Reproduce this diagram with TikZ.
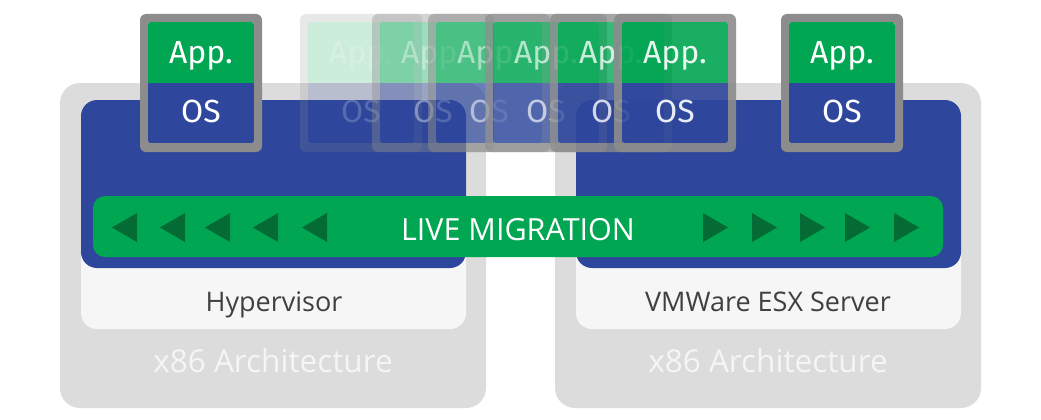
\documentclass[tikz,border=0pt]{standalone}
\usepackage{fontspec}
\setmainfont{Open Sans}
\newfontfamily\vmfont{Fira Sans}
\definecolor{mygreen}{HTML}{00A651}
\definecolor{darkgreen}{HTML}{036B33}
\definecolor{myblue}{HTML}{2E479C}
\definecolor{framegray}{HTML}{8C8C8C}
\definecolor{boxgray}{HTML}{DCDCDC}
\definecolor{innergray}{HTML}{F6F6F6}
\definecolor{txtgray}{HTML}{404040}
\tikzset{
  hostbox/.style={fill=boxgray, draw=none, rounded corners=20pt, minimum width=426pt, minimum height=325pt, inner sep=0pt},
  layerbox/.style={fill=innergray, draw=none, rounded corners=16pt, minimum width=385pt, minimum height=229pt, inner sep=0pt},
  bluebox/.style={fill=myblue, draw=none, rounded corners=16pt, minimum width=385pt, minimum height=168pt, inner sep=0pt},
  barbox/.style={fill=mygreen, draw=none, rounded corners=12pt, minimum width=850pt, minimum height=61pt, inner sep=0pt},
  archlabel/.style={text=white!96!black, font=\fontsize{31.5}{33}\selectfont, anchor=base, inner sep=0pt},
  hvlabel/.style={text=txtgray, font=\fontsize{27}{29}\selectfont, anchor=base, inner sep=0pt},
  tri/.style={fill=darkgreen},
  vmtext/.style={text=white, font=\vmfont\fontsize{32}{34}\selectfont, inner sep=0pt, anchor=base},
}
% \vmbox{name}{left x}{opacity}
\newcommand{\vmbox}[3]{%
  \begin{scope}[opacity=#3]
  \fill[framegray, even odd rule, rounded corners=6pt] (#2,14) rectangle ++(122,138)
     [rounded corners=3pt] (#2+8,22) rectangle ++(106,121);
  \begin{scope}
  \clip[rounded corners=3pt] (#2+8,22) rectangle ++(106,121);
  \fill[mygreen] (#2+8,22) rectangle (#2+114,83);
  \fill[myblue] (#2+8,83) rectangle (#2+114,143);
  \end{scope}
  \node[vmtext] (#1-app) at (#2+61,63.5) {App.};
  \node[vmtext] (#1-os) at (#2+61,122) {OS};
  \end{scope}}
\begin{document}
\begin{tikzpicture}[x=1pt, y=-1pt]
\useasboundingbox (0,0) rectangle (1041,420);
\fill[white] (0,0) rectangle (1041,420);
% hosts
\node[hostbox] (hostL) at (273,245.5) {};
\node[hostbox] (hostR) at (768,245.5) {};
\node[layerbox] (layerL) at (273.5,214.5) {};
\node[layerbox] (layerR) at (768.5,214.5) {};
\node[bluebox] (blueL) at (273.5,184) {};
\node[bluebox] (blueR) at (768.5,184) {};
\node[hvlabel] (hyp) at (274,311.5) {Hypervisor};
\node[hvlabel] (esx) at (768,311.5) {VMWare ESX Server};
\node[archlabel] (archL) at (273,372.5) {x86 Architecture};
\node[archlabel] (archR) at (768,372.5) {x86 Architecture};
% VMs
\vmbox{vmL}{140}{1}
\vmbox{vmR}{781}{1}
\vmbox{g1}{300}{0.2}
\vmbox{g2}{372}{0.38}
\vmbox{g3}{428}{0.52}
\vmbox{g4}{485}{0.66}
\vmbox{g5}{550}{0.78}
\vmbox{g6}{614}{0.9}
% migration bar
\node[barbox] (bar) at (518,226.5) {};
\node[text=white, font=\fontsize{30.5}{33}\selectfont, anchor=base, inner sep=0pt] (lm) at (518,240) {LIVE MIGRATION};
\foreach \x in {112,160,205,253,302}{
  \fill[tri] (\x,227.5) -- (\x+25,213) -- (\x+25,242) -- cycle;
}
\foreach \x in {703,752,800,845,894}{
  \fill[tri] (\x+25,227.5) -- (\x,213) -- (\x,242) -- cycle;
}
\end{tikzpicture}
\end{document}
